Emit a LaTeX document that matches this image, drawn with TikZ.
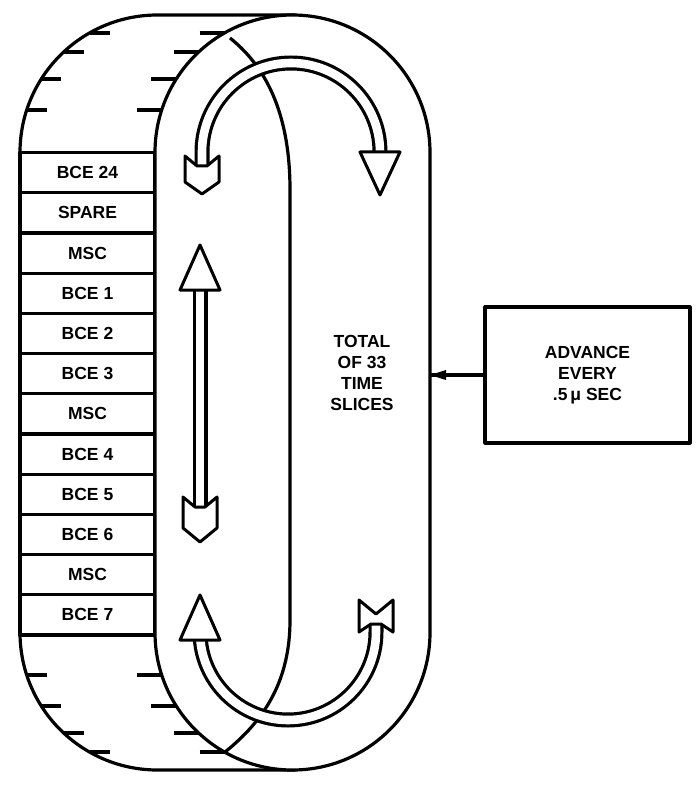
\documentclass[tikz,border=0pt]{standalone}
\usepackage{fontspec}
\setmainfont{Liberation Sans}
\begin{document}
\begin{tikzpicture}[x=1pt,y=-1pt,line width=3.2pt,line join=round,
  lbl/.style={font=\bfseries\fontsize{17.5}{21}\selectfont,align=center,inner sep=0pt},
  slot/.style={draw,fill=white,minimum width=135pt,minimum height=40.2pt,inner sep=0pt,font=\bfseries\fontsize{17.5}{20}\selectfont},
  bandout/.style={line width=15pt,black},
  bandin/.style={line width=8.6pt,white},
  arrpart/.style={draw=black,fill=white,line width=3pt}]
\useasboundingbox (0,0) rectangle (700,786);
% back drum
\draw[fill=white] (20,152.5) arc[start angle=180,end angle=270,radius=137.5] -- (295,15) -- (295,770) -- (157.5,770) arc[start angle=90,end angle=180,radius=137.5] -- cycle;
% ticks
\foreach \y/\b/\f in {110/26.7/161.7,79/41.3/176.3,52/63.7/198.7,33/89.5/224.5,675/26.7/161.7,706/41.3/176.3,733/63.7/198.7,752/89.5/224.5}{
  \draw (\b,\y) -- ++(20,0);
  \draw (\f-25,\y) -- (\f,\y);
}
% slots
\foreach \t [count=\i] in {BCE 24,SPARE,MSC,BCE 1,BCE 2,BCE 3,MSC,BCE 4,BCE 5,BCE 6,MSC,BCE 7}{
  \node[slot] (s\i) at (87.5,{152.5+40.2*(\i-0.5)}) {\t};
}
% front drum
\draw[fill=white] (155,152.5) arc[start angle=180,end angle=360,radius=137.5] -- (430,632.5) arc[start angle=0,end angle=180,radius=137.5] -- cycle;
\coordinate (fe) at (430,375);
% seam
\draw (230,38) .. controls (270,70) and (290,120) .. (290,190) -- (290,620) .. controls (290,680) and (265,720) .. (225,752);
% top arc arrow
\draw[bandout] (202,165) -- (202,152) arc[start angle=180,end angle=360,radius=89] -- (380,160);
\draw[bandin] (202,168) -- (202,152) arc[start angle=180,end angle=360,radius=89] -- (380,156);
\draw[arrpart] (360,152) -- (400,152) -- (380,195) -- cycle;
\draw[arrpart] (197,166) -- (185,156) -- (185,182) -- (202,194) -- (219,182) -- (219,156) -- (207,166) -- cycle;
% vertical arrow
\draw[bandout] (200,288) -- (200,507);
\draw[bandin] (200,285) -- (200,510);
\draw[arrpart] (180,290) -- (220,290) -- (200,245) -- cycle;
\draw[arrpart] (195,507) -- (183,497) -- (183,528) -- (200,542) -- (217,528) -- (217,497) -- (205,507) -- cycle;
% bottom arc arrow
\draw[bandout] (200,638) -- (200,632) arc[start angle=180,end angle=0,radius=88] -- (376,620);
\draw[bandin] (200,641) -- (200,632) arc[start angle=180,end angle=0,radius=88] -- (376,617);
\draw[arrpart] (180,640) -- (220,640) -- (200,595) -- cycle;
\draw[arrpart] (371,624) -- (359,632) -- (359,600) -- (376,614) -- (393,600) -- (393,632) -- (381,624) -- cycle;
% center text
\node[lbl] (tot) at (362,373) {TOTAL\\OF 33\\TIME\\SLICES};
% box
\node[draw,minimum width=205pt,minimum height=136pt,lbl] (box) at (587.5,375) {ADVANCE\\EVERY\\.5\,μ SEC};
\draw (box.west) -- (fe);
\fill (fe) -- ++(16,-5) -- ++(0,10) -- cycle;
\end{tikzpicture}
\end{document}
